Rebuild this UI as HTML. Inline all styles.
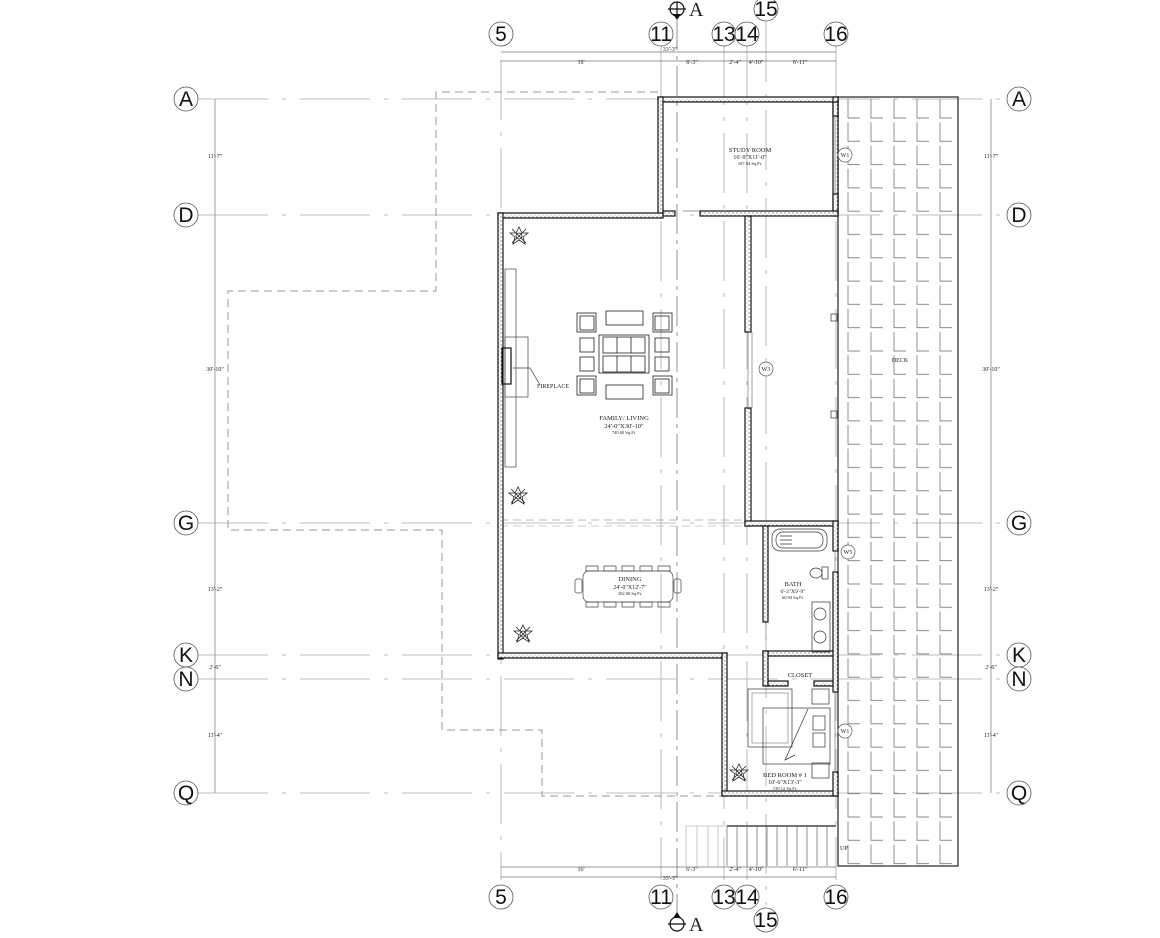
<!DOCTYPE html>
<html><head><meta charset="utf-8"><style>
html,body{margin:0;padding:0;background:#fff;}
svg{display:block;}
text{font-family:"Liberation Serif",serif;fill:#222;}
.b{font-family:"Liberation Sans",sans-serif;font-size:21px;text-anchor:middle;fill:#111;}
</style></head><body>
<svg width="1160" height="938" viewBox="0 0 1160 938" xmlns="http://www.w3.org/2000/svg">
<defs>
<pattern id="tile" x="838" y="97" width="23" height="23.3" patternUnits="userSpaceOnUse">
<path d="M10 2 V21 H22" fill="none" stroke="#777" stroke-width="0.8"/>
</pattern>
<pattern id="hatch" width="4" height="4" patternUnits="userSpaceOnUse"><rect width="4" height="4" fill="#fff"/><circle cx="1" cy="1" r="0.6" fill="#555"/><circle cx="3" cy="3" r="0.5" fill="#888"/></pattern>
<g id="flower"><g stroke="#222" stroke-width="0.8" fill="none">
<path d="M0-9 L3-3 L9-3 L4 1 L6 8 L0 4 L-6 8 L-4 1 L-9-3 L-3-3Z"/><circle r="3"/><path d="M-7-7 L7 7 M7-7 L-7 7"/></g></g>
<g id="bubble"><circle r="12" fill="#fff" stroke="#555" stroke-width="0.8"/></g>
</defs>

<g stroke="#aaa" stroke-width="0.8" stroke-dasharray="60,12,4,12">
<line x1="501" y1="60" x2="501" y2="880"/>
<line x1="661" y1="45" x2="661" y2="880"/>
<line x1="724" y1="45" x2="724" y2="880"/>
<line x1="747" y1="45" x2="747" y2="880"/>
<line x1="766" y1="22" x2="766" y2="905"/>
<line x1="836" y1="45" x2="836" y2="880"/>
</g>
<line x1="677" y1="20" x2="677" y2="915" stroke="#777" stroke-width="0.8" stroke-dasharray="30,6,4,6"/>
<g stroke="#aaa" stroke-width="0.8" stroke-dasharray="70,14,4,14">
<line x1="198" y1="99" x2="1005" y2="99"/>
<line x1="198" y1="215" x2="1005" y2="215"/>
<line x1="198" y1="523" x2="1005" y2="523"/>
<line x1="198" y1="655" x2="1005" y2="655"/>
<line x1="198" y1="679" x2="1005" y2="679"/>
<line x1="198" y1="793" x2="1005" y2="793"/>
</g>

<path d="M658 92 H436 V291 H228 V530 H442 V730 H542 V796 H722" fill="none" stroke="#999" stroke-width="1" stroke-dasharray="8,5"/>
<line x1="500" y1="520" x2="745" y2="520" stroke="#bbb" stroke-dasharray="8,5"/>
<line x1="500" y1="526" x2="745" y2="526" stroke="#ccc" stroke-dasharray="8,5"/>

<rect x="838" y="97" width="120" height="769" fill="url(#tile)" stroke="#222" stroke-width="1.2"/>

<g stroke="#777" stroke-width="0.8">
<line x1="727" y1="826" x2="836" y2="826" stroke="#222" stroke-width="1.2"/>
<line x1="727" y1="826" x2="727" y2="866"/>
<path d="M737 826V866M747 826V866M757 826V866M767 826V866M777 826V866M787 826V866M797 826V866M807 826V866M817 826V866M827 826V866"/>
<path d="M686 826V866M697 826V866M708 826V866M718 826V866" stroke="#bbb"/>
<line x1="686" y1="826" x2="727" y2="826" stroke="#bbb"/>
</g>
<text x="840" y="850" font-size="6">UP</text>

<g fill="url(#hatch)" stroke="#111" stroke-width="1.2">
<rect x="658" y="97" width="180" height="5"/>
<rect x="658" y="97" width="5" height="119"/>
<rect x="833" y="97" width="5" height="119"/>
<rect x="700" y="211" width="138" height="5"/>
<rect x="663" y="211" width="12" height="5"/>
<rect x="498" y="213" width="165" height="5"/>
<rect x="498" y="213" width="5" height="446"/>
<rect x="498" y="653" width="229" height="5"/>
<rect x="745" y="216" width="6" height="116"/>
<rect x="745" y="408" width="6" height="118"/>
<rect x="745" y="521" width="93" height="5"/>
<rect x="763" y="526" width="5" height="96"/>
<rect x="833" y="521" width="5" height="30"/>
<rect x="833" y="572" width="5" height="120"/>
<rect x="763" y="651" width="70" height="5"/>
<rect x="763" y="651" width="5" height="35"/>
<rect x="768" y="681" width="20" height="5"/>
<rect x="814" y="681" width="19" height="5"/>
<rect x="722" y="653" width="5" height="143"/>
<rect x="722" y="791" width="116" height="5"/>
<rect x="833" y="772" width="5" height="24"/>
<rect x="833" y="102" width="5" height="14"/>
<rect x="833" y="194" width="5" height="17"/>
</g>
<g stroke="#777" stroke-width="0.7">
<line x1="835" y1="116" x2="835" y2="194"/>
<line x1="748" y1="332" x2="748" y2="408"/><line x1="752" y1="332" x2="752" y2="408"/>
<line x1="835" y1="551" x2="835" y2="572"/>
<line x1="835" y1="692" x2="835" y2="772"/>
<line x1="683" y1="211" x2="700" y2="211"/>
<line x1="766" y1="622" x2="766" y2="640"/>
</g>

<g fill="none" stroke="#444" stroke-width="0.7">
<rect x="505" y="269" width="11" height="198"/>
<rect x="505" y="337" width="23" height="60"/>
<rect x="502" y="348" width="9" height="36" stroke="#111" stroke-width="1.2"/>
<path d="M513 368 L530 368 L540 385"/>
</g>
<text x="537" y="388" font-size="6">FIREPLACE</text>

<g fill="none" stroke="#222" stroke-width="0.8">
<rect x="577" y="313" width="19" height="19"/><rect x="580" y="316" width="14" height="14"/>
<rect x="653" y="313" width="19" height="19"/><rect x="655" y="316" width="14" height="14"/>
<rect x="577" y="376" width="19" height="19"/><rect x="580" y="379" width="14" height="14"/>
<rect x="653" y="376" width="19" height="19"/><rect x="655" y="379" width="14" height="14"/>
<rect x="606" y="311" width="37" height="14"/><rect x="606" y="385" width="37" height="14"/>
<rect x="580" y="338" width="14" height="14"/><rect x="580" y="357" width="14" height="14"/>
<rect x="655" y="338" width="14" height="14"/><rect x="655" y="357" width="14" height="14"/>
<rect x="599" y="335" width="50" height="38"/>
<rect x="603" y="337" width="42" height="16"/><rect x="603" y="356" width="42" height="16"/>
<path d="M617 337V353M631 337V353M617 356V372M631 356V372"/>
</g>
<text x="624" y="420" font-size="6.5" text-anchor="middle">FAMILY/ LIVING</text>
<text x="624" y="428" font-size="6.5" text-anchor="middle">24'-0"X30'-10"</text>
<text x="624" y="434" font-size="4.5" text-anchor="middle">740.00 Sq.Ft.</text>

<g fill="none" stroke="#444" stroke-width="0.7">
<rect x="583" y="571" width="90" height="31" rx="6"/>
<rect x="575" y="579" width="7" height="14" rx="2"/><rect x="674" y="579" width="7" height="14" rx="2"/>
<path d="M586 566h12v5h-12zM604 566h12v5h-12zM622 566h12v5h-12zM640 566h12v5h-12zM658 566h12v5h-12zM586 602h12v5h-12zM604 602h12v5h-12zM622 602h12v5h-12zM640 602h12v5h-12zM658 602h12v5h-12z"/>
</g>
<text x="630" y="581" font-size="6.5" text-anchor="middle">DINING</text>
<text x="630" y="589" font-size="6" text-anchor="middle">24'-0"X12'-7"</text>
<text x="630" y="595" font-size="4.5" text-anchor="middle">302.00 Sq.Ft.</text>

<use href="#flower" x="519" y="236"/>
<use href="#flower" x="518" y="496"/>
<use href="#flower" x="523" y="634"/>
<use href="#flower" x="739" y="773"/>

<text x="750" y="152" font-size="6.5" text-anchor="middle">STUDY ROOM</text>
<text x="750" y="159" font-size="6" text-anchor="middle">16'-9"X11'-0"</text>
<text x="750" y="165" font-size="4.5" text-anchor="middle">187.04 Sq.Ft.</text>

<g fill="none" stroke="#333" stroke-width="0.7">
<rect x="772" y="529" width="55" height="22" rx="8"/><rect x="776" y="532" width="47" height="16" rx="7"/>
<path d="M780 536h12M780 540h12M780 544h12"/>
<ellipse cx="816" cy="573" rx="6" ry="5"/><rect x="822" y="567" width="6" height="12"/>
<rect x="812" y="602" width="18" height="50"/>
<circle cx="820" cy="614" r="6"/><circle cx="820" cy="637" r="6"/>
</g>
<text x="793" y="586" font-size="6.5" text-anchor="middle">BATH</text>
<text x="793" y="593" font-size="5.5" text-anchor="middle">6'-3"X9'-9"</text>
<text x="793" y="599" font-size="4.5" text-anchor="middle">60.94 Sq.Ft.</text>
<text x="800" y="677" font-size="6.5" text-anchor="middle">CLOSET</text>

<g fill="none" stroke="#333" stroke-width="0.7">
<rect x="748" y="689" width="44" height="58"/><rect x="752" y="693" width="36" height="50" stroke="#888"/>
<rect x="763" y="708" width="67" height="56"/>
<rect x="812" y="689" width="17" height="15"/><rect x="812" y="763" width="17" height="15"/>
<rect x="813" y="716" width="12" height="14"/><rect x="813" y="733" width="12" height="14"/>
<path d="M808 709 L785 760 L795 755"/>
</g>
<text x="785" y="777" font-size="6.5" text-anchor="middle">BED ROOM # 1</text>
<text x="785" y="784" font-size="6" text-anchor="middle">10'-6"X13'-3"</text>
<text x="785" y="790" font-size="4.5" text-anchor="middle">139.12 Sq.Ft.</text>

<g fill="#fff" stroke="#555" stroke-width="0.7">
<circle cx="845" cy="155" r="7"/><circle cx="766" cy="369" r="7"/><circle cx="848" cy="552" r="7"/><circle cx="845" cy="731" r="7"/>
</g>
<text x="845" y="157" font-size="6" text-anchor="middle">W1</text>
<text x="766" y="371" font-size="6" text-anchor="middle">W3</text>
<text x="848" y="554" font-size="6" text-anchor="middle">W5</text>
<text x="845" y="733" font-size="6" text-anchor="middle">W1</text>
<text x="900" y="362" font-size="6" text-anchor="middle">DECK</text>
<g fill="none" stroke="#333" stroke-width="0.7"><rect x="831" y="314" width="6" height="7"/><rect x="831" y="411" width="6" height="7"/></g>

<g stroke="#777" stroke-width="0.7">
<line x1="501" y1="52" x2="836" y2="52"/>
<line x1="501" y1="61" x2="836" y2="61"/>
<line x1="501" y1="867" x2="836" y2="867"/>
<line x1="501" y1="877" x2="836" y2="877"/>
<line x1="215" y1="99" x2="215" y2="793"/>
<line x1="991" y1="99" x2="991" y2="793"/>
</g>
<g font-size="6" text-anchor="middle">
<text x="670" y="51">33'-3"</text>
<text x="581" y="64">16'</text><text x="692" y="64">6'-3"</text><text x="735" y="64">2'-4"</text><text x="756" y="64">4'-10"</text><text x="800" y="64">6'-11"</text>
<text x="670" y="880">33'-3"</text>
<text x="581" y="871">16'</text><text x="692" y="871">6'-3"</text><text x="735" y="871">2'-4"</text><text x="756" y="871">4'-10"</text><text x="800" y="871">6'-11"</text>
<text x="215" y="158">11'-7"</text><text x="215" y="371">30'-10"</text><text x="215" y="591">13'-2"</text><text x="215" y="669">2'-6"</text><text x="215" y="737">11'-4"</text>
<text x="991" y="158">11'-7"</text><text x="991" y="371">30'-10"</text><text x="991" y="591">13'-2"</text><text x="991" y="669">2'-6"</text><text x="991" y="737">11'-4"</text>
</g>

<g>
<use href="#bubble" x="501" y="34"/><text class="b" x="501" y="41">5</text>
<use href="#bubble" x="661" y="34"/><text class="b" x="661" y="41">11</text>
<use href="#bubble" x="724" y="34"/><text class="b" x="724" y="41">13</text>
<use href="#bubble" x="747" y="34"/><text class="b" x="747" y="41">14</text>
<use href="#bubble" x="766" y="9"/><text class="b" x="766" y="16">15</text>
<use href="#bubble" x="836" y="34"/><text class="b" x="836" y="41">16</text>
<use href="#bubble" x="501" y="897"/><text class="b" x="501" y="904">5</text>
<use href="#bubble" x="661" y="897"/><text class="b" x="661" y="904">11</text>
<use href="#bubble" x="724" y="897"/><text class="b" x="724" y="904">13</text>
<use href="#bubble" x="747" y="897"/><text class="b" x="747" y="904">14</text>
<use href="#bubble" x="766" y="920"/><text class="b" x="766" y="927">15</text>
<use href="#bubble" x="836" y="897"/><text class="b" x="836" y="904">16</text>
<use href="#bubble" x="186" y="99"/><text class="b" x="186" y="106">A</text>
<use href="#bubble" x="186" y="215"/><text class="b" x="186" y="222">D</text>
<use href="#bubble" x="186" y="523"/><text class="b" x="186" y="530">G</text>
<use href="#bubble" x="186" y="655"/><text class="b" x="186" y="662">K</text>
<use href="#bubble" x="186" y="679"/><text class="b" x="186" y="686">N</text>
<use href="#bubble" x="186" y="793"/><text class="b" x="186" y="800">Q</text>
<use href="#bubble" x="1019" y="99"/><text class="b" x="1019" y="106">A</text>
<use href="#bubble" x="1019" y="215"/><text class="b" x="1019" y="222">D</text>
<use href="#bubble" x="1019" y="523"/><text class="b" x="1019" y="530">G</text>
<use href="#bubble" x="1019" y="655"/><text class="b" x="1019" y="662">K</text>
<use href="#bubble" x="1019" y="679"/><text class="b" x="1019" y="686">N</text>
<use href="#bubble" x="1019" y="793"/><text class="b" x="1019" y="800">Q</text>
</g>
<g stroke="#111" stroke-width="1.2" fill="none">
<circle cx="677" cy="9" r="7"/><line x1="668" y1="9" x2="686" y2="9"/><path d="M677 2 V16" />
<circle cx="677" cy="924" r="7"/><line x1="668" y1="924" x2="686" y2="924"/>
</g>
<path d="M673 14 L677 20 L681 14Z M673 918 L677 912 L681 918Z" fill="#111"/>
<text x="689" y="16" font-size="20" font-family="Liberation Serif">A</text>
<text x="689" y="931" font-size="20" font-family="Liberation Serif">A</text>
</svg>
</body></html>
